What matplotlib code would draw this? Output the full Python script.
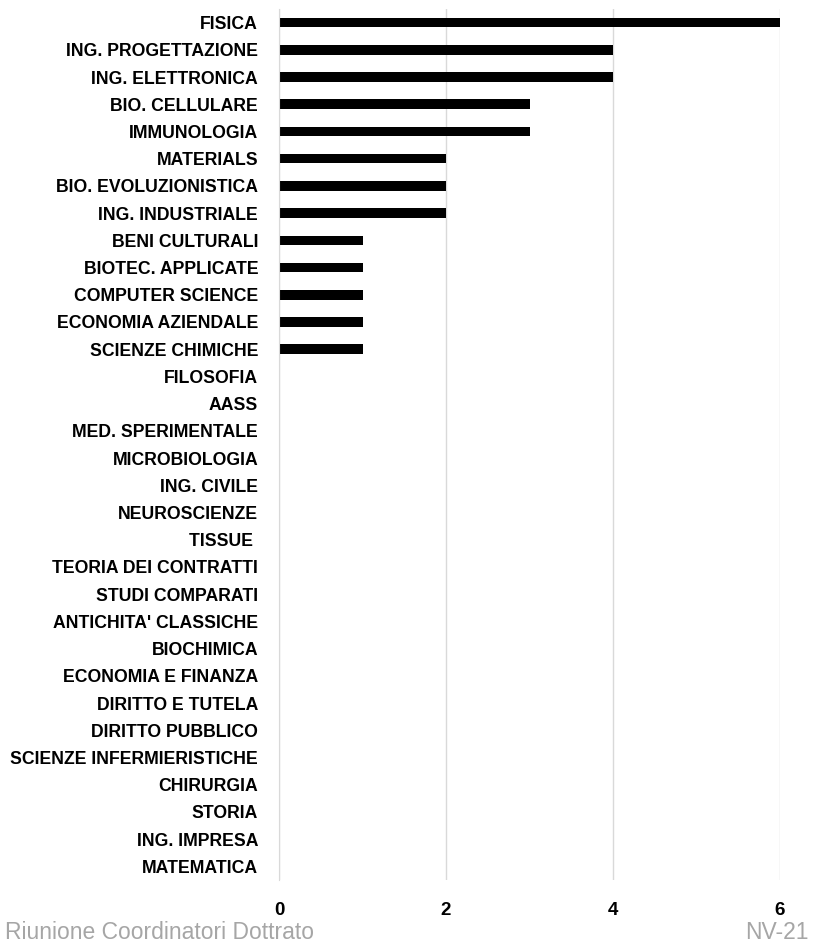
import matplotlib
matplotlib.use("Agg")
import matplotlib.pyplot as plt
import numpy as np

# categories from top to bottom
corsi = ["FISICA", "ING. PROGETTAZIONE", "ING. ELETTRONICA", "BIO. CELLULARE",
         "IMMUNOLOGIA", "MATERIALS", "BIO. EVOLUZIONISTICA", "ING. INDUSTRIALE",
         "BENI CULTURALI", "BIOTEC. APPLICATE", "COMPUTER SCIENCE",
         "ECONOMIA AZIENDALE", "SCIENZE CHIMICHE", "FILOSOFIA", "AASS",
         "MED. SPERIMENTALE", "MICROBIOLOGIA", "ING. CIVILE", "NEUROSCIENZE",
         "TISSUE ", "TEORIA DEI CONTRATTI", "STUDI COMPARATI",
         "ANTICHITA' CLASSICHE", "BIOCHIMICA", "ECONOMIA E FINANZA",
         "DIRITTO E TUTELA", "DIRITTO PUBBLICO", "SCIENZE INFERMIERISTICHE",
         "CHIRURGIA", "STORIA", "ING. IMPRESA", "MATEMATICA"]
valori = [6, 4, 4, 3, 3, 2, 2, 2, 1, 1, 1, 1, 1,
          0, 0, 0, 0, 0, 0, 0, 0, 0, 0, 0, 0, 0, 0, 0, 0, 0, 0, 0]
xticks = [0, 2, 4, 6]

plt.rcParams['font.family'] = ['Liberation Sans', 'DejaVu Sans']

fig = plt.figure(figsize=(8.14, 9.47), dpi=100)
ax = fig.add_axes([0.3428, 0.0708, 0.6155, 0.9197])

y = np.arange(len(corsi))
ax.barh(y, valori, height=0.35, color='black')
ax.set_ylim(len(corsi) - 0.5, -0.5)
ax.set_xlim(0, 6)
ax.set_xticks(xticks)
ax.set_xticklabels([str(t) for t in xticks], fontsize=13.5, fontweight='bold')
ax.set_yticks(y)
ax.set_yticklabels(corsi, fontsize=12.7, fontweight='bold')
ax.tick_params(axis='both', length=0)
ax.tick_params(axis='x', pad=16)
ax.tick_params(axis='y', pad=15)
ax.grid(axis='x', color='#d9d9d9', linewidth=1)
ax.set_axisbelow(True)
for s in ['top', 'right', 'bottom']:
    ax.spines[s].set_visible(False)
ax.spines['left'].set_color('#d9d9d9')

fig.text(0.006, 0.0158, "Riunione Coordinatori Dottrato", fontsize=16.5, color='#a6a6a6',
         va='center')
fig.text(0.993, 0.0158, "NV-21", fontsize=16.5, color='#a6a6a6', ha='right', va='center')

fig.savefig("out.png", dpi=100)
